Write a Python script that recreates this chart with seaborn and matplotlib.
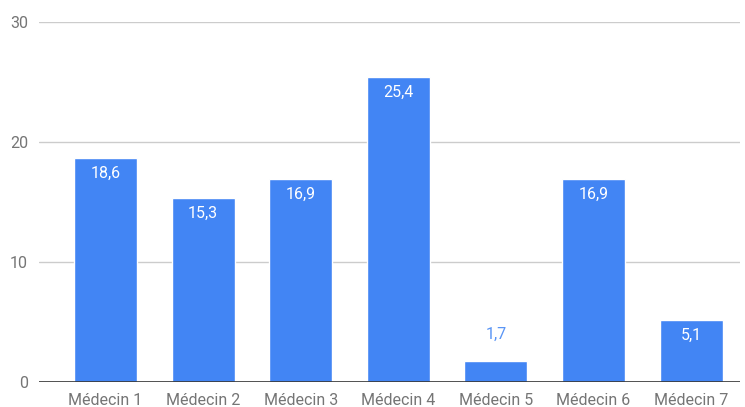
import matplotlib
matplotlib.use("Agg")
import matplotlib.pyplot as plt
import seaborn as sns
import pandas as pd

categories = ["Médecin 1", "Médecin 2", "Médecin 3", "Médecin 4",
              "Médecin 5", "Médecin 6", "Médecin 7"]
values = [18.6, 15.3, 16.9, 25.4, 1.7, 16.9, 5.1]
y_ticks = [0, 10, 20, 30]

sns.set_theme(style="white")
plt.rcParams["font.family"] = ["Roboto", "DejaVu Sans"]

BLUE = "#4285F4"
df = pd.DataFrame({"medecin": categories, "valeur": values})

fig = plt.figure(figsize=(7.45, 4.07), dpi=100)
ax = fig.add_axes([39 / 745, 25.5 / 407, 701 / 745, 360 / 407])

sns.barplot(data=df, x="medecin", y="valeur", color=BLUE, saturation=1,
            width=0.645, ax=ax, zorder=3)

ax.set_ylim(0, 30)
ax.set_xlim(-0.68, 6.5)
ax.set_yticks(y_ticks)
ax.set_yticklabels([str(t) for t in y_ticks])
ax.set_xlabel("")
ax.set_ylabel("")

for t in y_ticks[1:]:
    ax.axhline(t, color="#cccccc", lw=1, zorder=1)
ax.axhline(0, color="#333333", lw=1.2, zorder=4)

for s in ax.spines.values():
    s.set_visible(False)

ax.tick_params(axis="both", length=0, labelsize=11.5, labelcolor="#757575")
ax.tick_params(axis="y", pad=8)
ax.tick_params(axis="x", pad=8)

# value labels: inside the bar when it is tall enough, above otherwise
for i, v in enumerate(values):
    label = f"{v:.1f}".replace(".", ",")
    if v >= 3:
        ax.annotate(label, (i, v), xytext=(0, -11), textcoords="offset points",
                    ha="center", va="center", color="white", fontsize=11.5,
                    zorder=5)
    else:
        ax.annotate(label, (i, v), xytext=(0, 19), textcoords="offset points",
                    ha="center", va="center", color="#5a95f5", fontsize=11.5,
                    zorder=5)

fig.savefig("out.png", dpi=100)
